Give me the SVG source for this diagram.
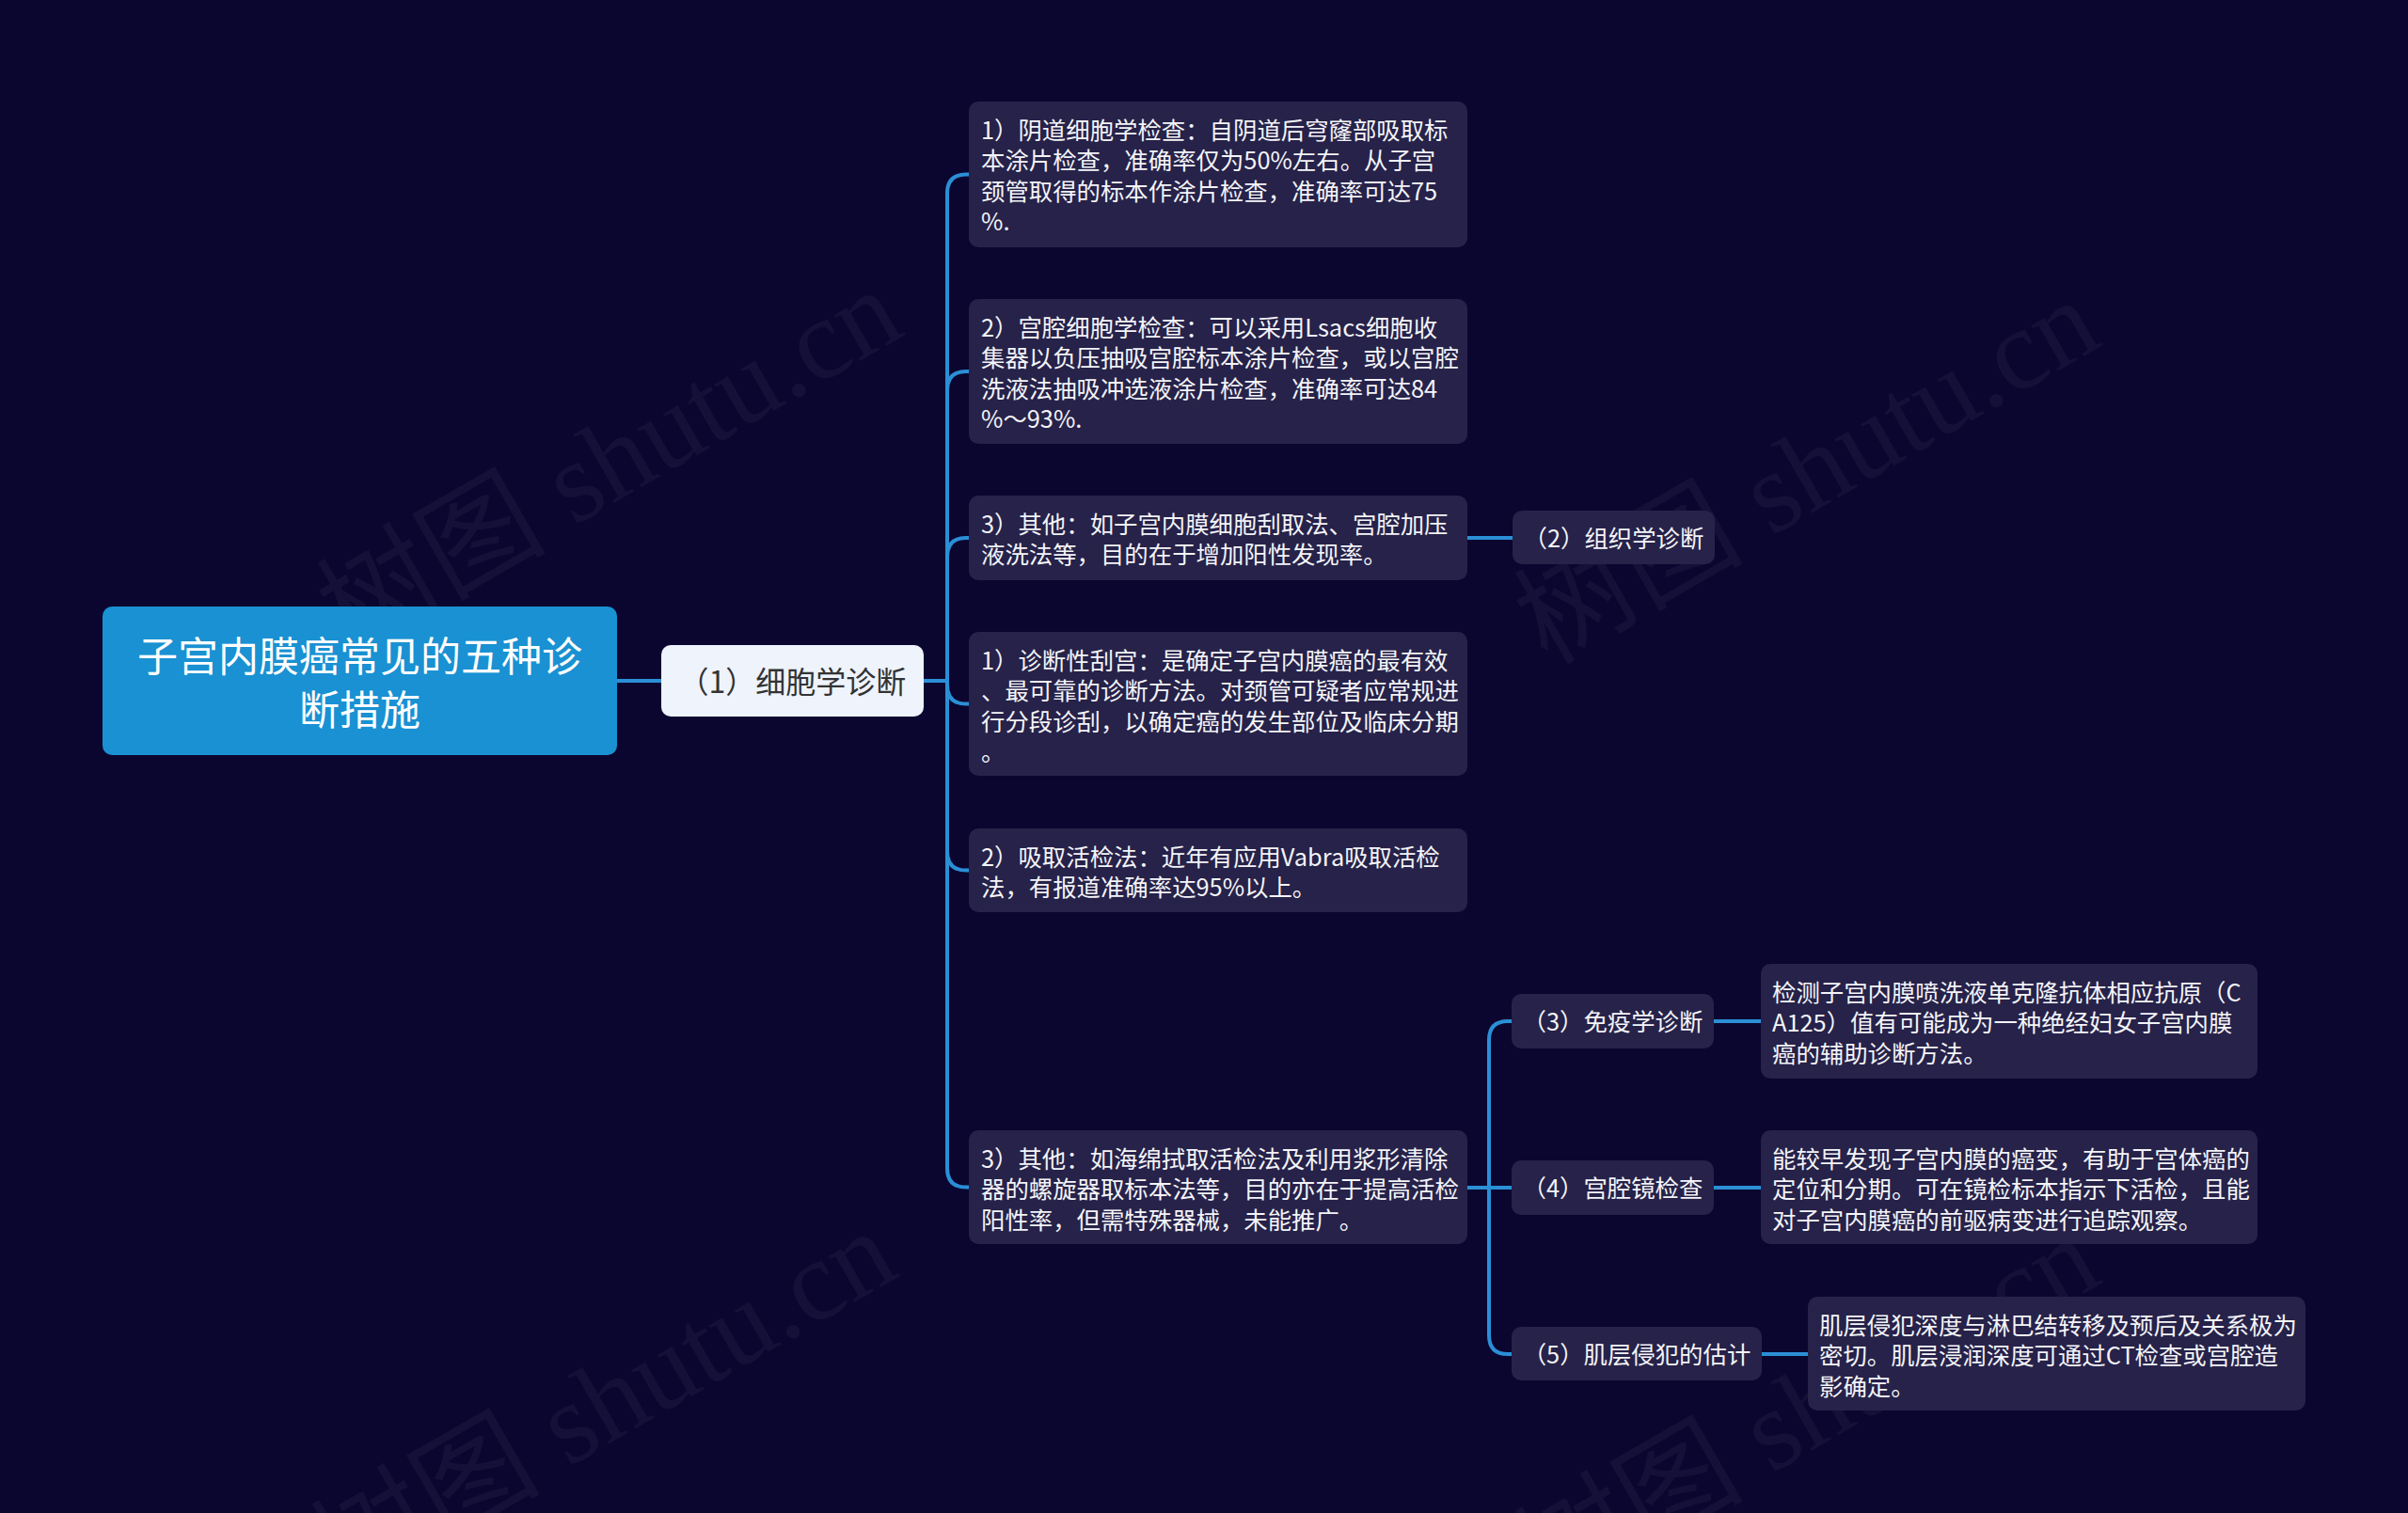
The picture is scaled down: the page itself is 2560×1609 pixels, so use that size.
<svg xmlns="http://www.w3.org/2000/svg" width="2560" height="1609" viewBox="0 0 2560 1609">
<style>
.bg{fill:#0b0630}
.wm{font-family:"Liberation Serif","Noto Sans CJK SC",serif;font-size:122px;fill:#ffffff;fill-opacity:0.045}
.root{fill:#1991d2}
.n1{fill:#eef3fc}
.box{fill:#262249}
.t{font-family:"Noto Sans CJK SC","Noto Sans",sans-serif;font-size:25.4px;fill:#f4f4f8;dominant-baseline:central}
.tr{font-family:"Noto Sans CJK SC","Noto Sans",sans-serif;font-size:43px;fill:#ffffff;dominant-baseline:central;text-anchor:middle}
.t1{font-family:"Noto Sans CJK SC","Noto Sans",sans-serif;font-size:32px;fill:#333333;dominant-baseline:central;text-anchor:middle}
.tn{font-family:"Noto Sans CJK SC","Noto Sans",sans-serif;font-size:25.4px;fill:#f4f4f8;dominant-baseline:central;text-anchor:middle}
.c{fill:none;stroke:#2b8fd6;stroke-width:4}
</style>
<rect class="bg" x="0" y="0" width="2560" height="1609"/>
<g id="watermarks">
<text class="wm" transform="translate(372,697) rotate(-30)">树图 shutu.cn</text>
<text class="wm" transform="translate(1645,708) rotate(-30)">树图 shutu.cn</text>
<text class="wm" transform="translate(366,1698) rotate(-30)">树图 shutu.cn</text>
<text class="wm" transform="translate(1645,1705) rotate(-30)">树图 shutu.cn</text>
</g>
<g id="connectors">
<path class="c" d="M656 724 H703"/>
<path class="c" d="M982 724 H1007 V205.5 Q1007 185.5 1027 185.5 H1030"/>
<path class="c" d="M982 724 H1007 V415 Q1007 395 1027 395 H1030"/>
<path class="c" d="M982 724 H1007 V592 Q1007 572 1027 572 H1030"/>
<path class="c" d="M982 724 H1007 V728.5 Q1007 748.5 1027 748.5 H1030"/>
<path class="c" d="M982 724 H1007 V905.5 Q1007 925.5 1027 925.5 H1030"/>
<path class="c" d="M982 724 H1007 V1242.5 Q1007 1262.5 1027 1262.5 H1030"/>
<path class="c" d="M1560 572 H1608"/>
<path class="c" d="M1560 1263 H1583 V1106 Q1583 1086 1603 1086 H1607"/>
<path class="c" d="M1560 1263 H1607"/>
<path class="c" d="M1560 1263 H1583 V1420 Q1583 1440 1603 1440 H1607"/>
<path class="c" d="M1822 1086 H1872"/>
<path class="c" d="M1822 1263 H1872"/>
<path class="c" d="M1873 1440 H1922"/>
</g>
<g id="root">
<rect class="root" x="109" y="645" width="547" height="158" rx="10"/>
<text class="tr" x="382.5" y="695">子宫内膜癌常见的五种诊</text>
<text class="tr" x="382.5" y="752">断措施</text>
</g>
<g id="n1">
<rect class="n1" x="703" y="686" width="279" height="76" rx="10"/>
<text class="t1" x="842.5" y="723">（1）细胞学诊断</text>
</g>
<g id="b1">
<rect class="box" x="1030" y="108" width="530" height="155" rx="10"/>
<text class="t" x="1043" y="136.5">1）阴道细胞学检查：自阴道后穹窿部吸取标</text>
<text class="t" x="1043" y="169">本涂片检查，准确率仅为50%左右。从子宫</text>
<text class="t" x="1043" y="201.5">颈管取得的标本作涂片检查，准确率可达75</text>
<text class="t" x="1043" y="234">%.</text>
</g>
<g id="b2">
<rect class="box" x="1030" y="318" width="530" height="154" rx="10"/>
<text class="t" x="1043" y="346.5">2）宫腔细胞学检查：可以采用Lsacs细胞收</text>
<text class="t" x="1043" y="379">集器以负压抽吸宫腔标本涂片检查，或以宫腔</text>
<text class="t" x="1043" y="411.5">洗液法抽吸冲选液涂片检查，准确率可达84</text>
<text class="t" x="1043" y="444">%～93%.</text>
</g>
<g id="b3">
<rect class="box" x="1030" y="527" width="530" height="90" rx="10"/>
<text class="t" x="1043" y="555.5">3）其他：如子宫内膜细胞刮取法、宫腔加压</text>
<text class="t" x="1043" y="588">液洗法等，目的在于增加阳性发现率。</text>
</g>
<g id="b4">
<rect class="box" x="1030" y="672" width="530" height="153" rx="10"/>
<text class="t" x="1043" y="700.5">1）诊断性刮宫：是确定子宫内膜癌的最有效</text>
<text class="t" x="1043" y="733">、最可靠的诊断方法。对颈管可疑者应常规进</text>
<text class="t" x="1043" y="765.5">行分段诊刮，以确定癌的发生部位及临床分期</text>
<text class="t" x="1043" y="798">。</text>
</g>
<g id="b5">
<rect class="box" x="1030" y="881" width="530" height="89" rx="10"/>
<text class="t" x="1043" y="909.5">2）吸取活检法：近年有应用Vabra吸取活检</text>
<text class="t" x="1043" y="942">法，有报道准确率达95%以上。</text>
</g>
<g id="b6">
<rect class="box" x="1030" y="1202" width="530" height="121" rx="10"/>
<text class="t" x="1043" y="1230.5">3）其他：如海绵拭取活检法及利用浆形清除</text>
<text class="t" x="1043" y="1263">器的螺旋器取标本法等，目的亦在于提高活检</text>
<text class="t" x="1043" y="1295.5">阳性率，但需特殊器械，未能推广。</text>
</g>
<g id="n2">
<rect class="box" x="1608" y="543" width="215" height="57" rx="10"/>
<text class="tn" x="1715.5" y="570.5">（2）组织学诊断</text>
</g>
<g id="n3">
<rect class="box" x="1607" y="1057" width="215" height="58" rx="10"/>
<text class="tn" x="1714.5" y="1085">（3）免疫学诊断</text>
</g>
<g id="n4">
<rect class="box" x="1607" y="1234" width="215" height="58" rx="10"/>
<text class="tn" x="1714.5" y="1262">（4）宫腔镜检查</text>
</g>
<g id="n5">
<rect class="box" x="1607" y="1411" width="266" height="57" rx="10"/>
<text class="tn" x="1740" y="1438.5">（5）肌层侵犯的估计</text>
</g>
<g id="d3">
<rect class="box" x="1872" y="1025" width="528" height="122" rx="10"/>
<text class="t" x="1884" y="1053.5">检测子宫内膜喷洗液单克隆抗体相应抗原（C</text>
<text class="t" x="1884" y="1086">A125）值有可能成为一种绝经妇女子宫内膜</text>
<text class="t" x="1884" y="1118.5">癌的辅助诊断方法。</text>
</g>
<g id="d4">
<rect class="box" x="1872" y="1202" width="528" height="121" rx="10"/>
<text class="t" x="1884" y="1230.5">能较早发现子宫内膜的癌变，有助于宫体癌的</text>
<text class="t" x="1884" y="1263">定位和分期。可在镜检标本指示下活检，且能</text>
<text class="t" x="1884" y="1295.5">对子宫内膜癌的前驱病变进行追踪观察。</text>
</g>
<g id="d5">
<rect class="box" x="1922" y="1379" width="529" height="121" rx="10"/>
<text class="t" x="1934" y="1407.5">肌层侵犯深度与淋巴结转移及预后及关系极为</text>
<text class="t" x="1934" y="1440">密切。肌层浸润深度可通过CT检查或宫腔造</text>
<text class="t" x="1934" y="1472.5">影确定。</text>
</g>
</svg>
